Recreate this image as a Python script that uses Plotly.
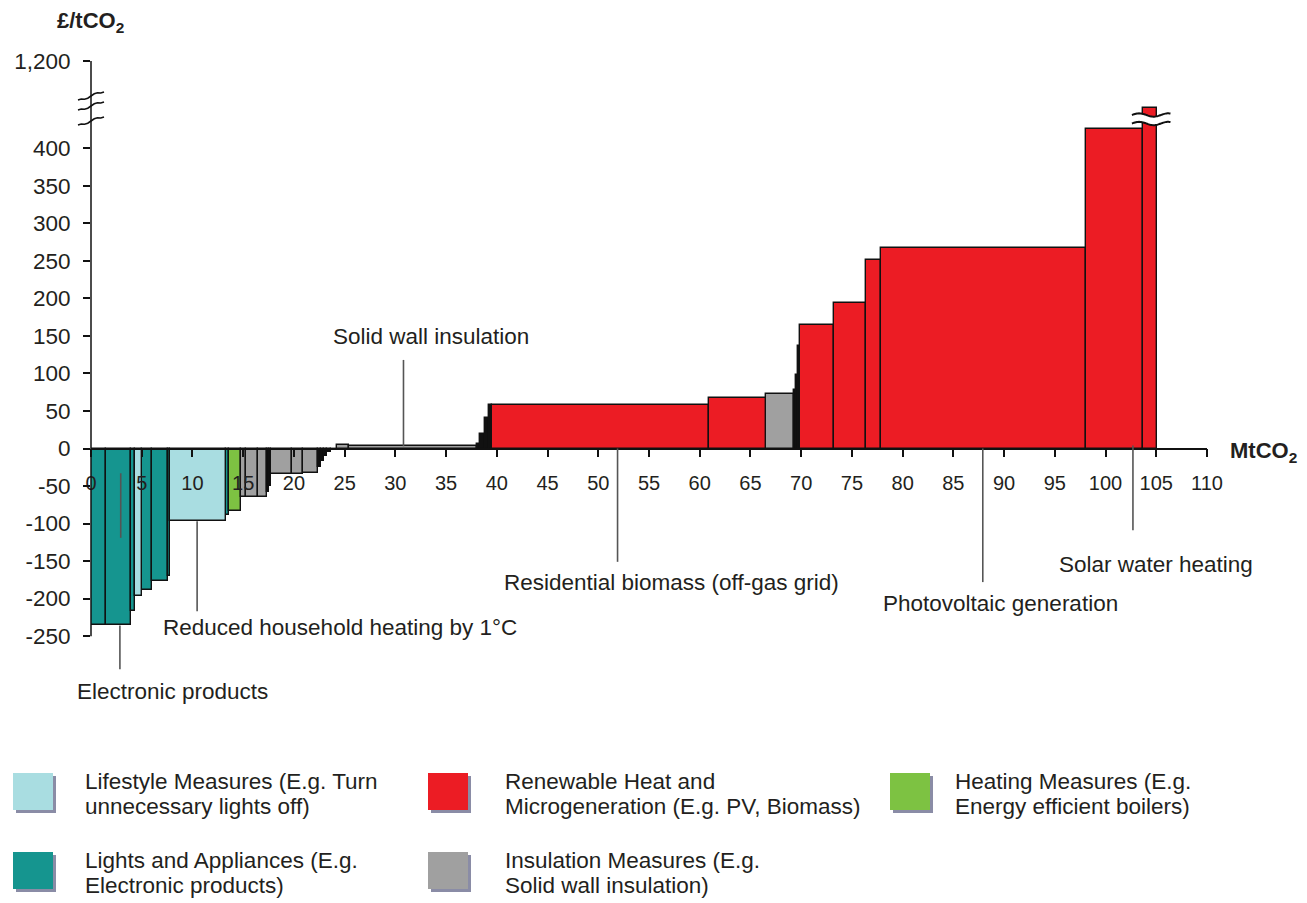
import math
import plotly.graph_objects as go

# ---------------- data ----------------
group_names = {
    "LS": "Lifestyle Measures",
    "LA": "Lights and Appliances",
    "HM": "Heating Measures",
    "IN": "Insulation Measures",
    "RH": "Renewable Heat and Microgeneration",
    "SM": "Other small measures",
}
group_colors = {
    "LS": "#A9DDE1",
    "LA": "#15958F",
    "HM": "#7DC242",
    "IN": "#A0A0A0",
    "RH": "#EC1C24",
    "SM": "#111111",
}
bar_groups = ["LA", "LA", "LA", "LS", "LA", "LA", "LA", "LS", "LA", "HM",
              "IN", "IN", "IN", "SM", "SM", "IN", "IN", "IN", "SM", "SM",
              "SM", "SM", "SM", "IN", "IN", "SM", "SM", "SM", "SM", "RH",
              "RH", "IN", "SM", "SM", "SM", "RH", "RH", "RH", "RH", "RH", "RH"]
# abatement potential of each measure (MtCO2)
bar_widths = [1.50, 2.46, 0.36, 0.75, 0.96, 1.54, 0.19, 5.52, 0.30, 1.22,
              0.49, 1.18, 0.89, 0.20, 0.19, 2.10, 1.06, 1.43, 0.30, 0.30,
              0.30, 0.40, 0.62, 1.14, 12.65, 0.32, 0.50, 0.32, 0.34, 21.41,
              5.61, 2.79, 0.18, 0.18, 0.20, 3.35, 3.15, 1.48, 20.20, 5.58, 1.44]
# cost of each measure (GBP/tCO2)
bar_costs = [-235, -235, -217, -196, -189, -176, -170, -96, -89, -83,
             -65, -65, -65, -58, -50, -34, -34, -32, -24, -16,
             -10, -5, -2, 5, 3, 6, 19, 41, 58, 58,
             67, 72, 78, 98, 136, 165, 194, 251, 267, 426, 640]

y_ticks = [-250, -200, -150, -100, -50, 0, 50, 100, 150, 200, 250, 300, 350, 400, 1200]
y_tick_labels = ["-250", "-200", "-150", "-100", "-50", "0", "50", "100", "150",
                 "200", "250", "300", "350", "400", "1,200"]
x_ticks = list(range(0, 111, 5))

legend_items = [
    ("LS", ["Lifestyle Measures (E.g. Turn", "unnecessary lights off)"]),
    ("RH", ["Renewable Heat and", "Microgeneration (E.g. PV, Biomass)"]),
    ("HM", ["Heating Measures (E.g.", "Energy efficient boilers)"]),
    ("LA", ["Lights and Appliances (E.g.", "Electronic products)"]),
    ("IN", ["Insulation Measures (E.g.", "Solid wall insulation)"]),
]

# ---------------- axis break ----------------
BREAK_LO, BREAK_HI, BREAK_POS = 430.0, 1200.0, 516.3


def ymap(v):
    if v <= BREAK_LO:
        return v
    return BREAK_LO + (v - BREAK_LO) * (BREAK_POS - BREAK_LO) / (BREAK_HI - BREAK_LO)


# ---------------- layout geometry (page pixels) ----------------
W, H = 1307, 903
L, R, T, B = 91, 100, 58, 229
PW, PH = W - L - R, H - T - B
XMIN, XMAX = 0, 110
PXY = 0.7505
YMAX = (448.5 - T) / PXY
YMIN = YMAX - PH / PXY


def xp(px):
    return (px - L) / PW


def yp(py):
    return (T + PH - py) / PH


def yd(v):
    return (v - YMIN) / (YMAX - YMIN)


FONT = "Liberation Sans, Arial, Helvetica, sans-serif"
TXT = "#231F20"

fig = go.Figure()

starts = []
s = 0.0
for w in bar_widths:
    starts.append(s)
    s += w

for g in ["LA", "LS", "HM", "IN", "RH", "SM"]:
    idx = [i for i, gg in enumerate(bar_groups) if gg == g]
    fig.add_trace(go.Bar(
        x=[starts[i] + bar_widths[i] / 2 for i in idx],
        y=[ymap(bar_costs[i]) for i in idx],
        width=[bar_widths[i] for i in idx],
        customdata=[bar_costs[i] for i in idx],
        hovertemplate="%{customdata} £/tCO2<extra>" + group_names[g] + "</extra>",
        marker=dict(color=group_colors[g], line=dict(color="#111111", width=1.4)),
        name=group_names[g],
        showlegend=False,
    ))

shapes = []
annotations = []

# y axis line (stops at -250 and 1,200)
shapes.append(dict(type="line", xref="paper", yref="paper", x0=0, x1=0,
                   y0=yd(-250), y1=yd(BREAK_POS),
                   line=dict(color="#111111", width=1.5)))

# y-axis break marks
for py in [96, 106, 121]:
    pts = []
    n = 8
    for k in range(n + 1):
        px = 78 + 26 * k / n
        dy = -8 * k / n + (1.2 if k in (2, 3) else 0) - (1.2 if k in (5, 6) else 0)
        pts.append((xp(px), yp(py + 4 + dy)))
    path = "M " + " L ".join(f"{a:.5f},{b:.5f}" for a, b in pts)
    shapes.append(dict(type="path", xref="paper", yref="paper", path=path,
                       line=dict(color="#111111", width=1.6)))

# bar break (white band with wavy edges)
xs = [102.6 + 0.1 * k for k in range(39)]
up = [(448.5 - 115) / PXY + 2.2 * math.sin((x - 102.6) * 2.2) for x in xs]
lo = [(448.5 - 123.5) / PXY + 2.2 * math.sin((x - 102.6) * 2.2) for x in xs]
band = "M " + " L ".join(f"{x:.3f},{y:.3f}" for x, y in zip(xs, up))
band += " L " + " L ".join(f"{x:.3f},{y:.3f}" for x, y in zip(reversed(xs), reversed(lo))) + " Z"
shapes.append(dict(type="path", xref="x", yref="y", path=band,
                   fillcolor="white", line=dict(width=0)))
for arr in (up, lo):
    shapes.append(dict(type="path", xref="x", yref="y",
                       path="M " + " L ".join(f"{x:.3f},{y:.3f}" for x, y in zip(xs, arr)),
                       line=dict(color="#111111", width=2)))

# leader lines
leaders = [
    (2.93, -33, -119), (2.85, -236, -294),
    (10.46, -97, -217),
    (30.8, 3, 118),
    (51.9, 0, -151),
    (87.9, 0, -178),
    (102.7, 4, -109),
]
for x, y0, y1 in leaders:
    shapes.append(dict(type="line", xref="x", yref="y", x0=x, x1=x, y0=y0, y1=y1,
                       line=dict(color="#555555", width=1.6)))

LBL = 22.5
labels = [
    ("Reduced household heating by 1°C", 6.85, -239, "left"),
    ("Solid wall insulation", 33.5, 149, "center"),
    ("Residential biomass (off-gas grid)", 57.2, -178, "center"),
    ("Photovoltaic generation", 89.6, -207, "center"),
    ("Solar water heating", 105.0, -155, "center"),
]
for text, x, y, anc in labels:
    annotations.append(dict(text=text, x=x, y=y, xref="x", yref="y", showarrow=False,
                            xanchor=anc, yanchor="middle",
                            font=dict(family=FONT, size=LBL, color=TXT)))
# label lying outside the axis ranges -> paper coordinates
annotations.append(dict(text="Electronic products", xref="paper", yref="paper",
                        x=xp(75), y=yp(691), showarrow=False, xanchor="left", yanchor="middle",
                        font=dict(family=FONT, size=LBL, color=TXT)))

# axis titles
annotations.append(dict(text="<b>£/tCO<sub>2</sub></b>", xref="paper", yref="paper",
                        x=xp(90), y=yp(22), showarrow=False, xanchor="center", yanchor="middle",
                        font=dict(family=FONT, size=22, color=TXT)))
annotations.append(dict(text="<b>MtCO<sub>2</sub></b>", xref="paper", yref="paper",
                        x=xp(1228), y=yp(452), showarrow=False, xanchor="left", yanchor="middle",
                        font=dict(family=FONT, size=22, color=TXT)))

# custom legend
legend_pos = [(13, 773, 83), (428, 773, 503), (890, 773, 953), (13, 852, 83), (428, 852, 503)]
for (g, lines), (sx, sy, tx) in zip(legend_items, legend_pos):
    shapes.append(dict(type="rect", xref="paper", yref="paper",
                       x0=xp(sx + 3), x1=xp(sx + 43), y0=yp(sy + 3), y1=yp(sy + 40),
                       fillcolor="#8A8CA6", line=dict(width=0)))
    shapes.append(dict(type="rect", xref="paper", yref="paper",
                       x0=xp(sx), x1=xp(sx + 40), y0=yp(sy), y1=yp(sy + 37),
                       fillcolor=group_colors[g], line=dict(width=0)))
    for j, line in enumerate(lines):
        annotations.append(dict(text=line, xref="paper", yref="paper", x=xp(tx),
                                y=yp(sy + 8 + 25.5 * j), showarrow=False,
                                xanchor="left", yanchor="middle", align="left",
                                font=dict(family=FONT, size=LBL, color=TXT)))

fig.update_layout(
    width=W, height=H,
    margin=dict(l=L, r=R, t=T, b=B, pad=0),
    paper_bgcolor="white", plot_bgcolor="white",
    barmode="overlay", bargap=0,
    shapes=shapes, annotations=annotations,
    font=dict(family=FONT, color=TXT),
    xaxis=dict(range=[XMIN, XMAX], tickvals=x_ticks, ticktext=[str(v) for v in x_ticks],
               showgrid=False, zeroline=False, showline=True, linecolor="#111111", linewidth=1.5,
               ticks="outside", ticklen=8, tickwidth=1.5, tickcolor="#111111",
               anchor="free", position=yd(0),
               tickfont=dict(family=FONT, size=20, color=TXT), ticklabelstandoff=9,
               fixedrange=True),
    yaxis=dict(range=[YMIN, YMAX], tickvals=[ymap(v) for v in y_ticks], ticktext=y_tick_labels,
               showgrid=False, zeroline=False, showline=False,
               ticks="outside", ticklen=7, tickwidth=1.5, tickcolor="#111111",
               tickfont=dict(family=FONT, size=22.5, color=TXT), ticklabelstandoff=8,
               fixedrange=True),
)

fig.write_html("out.html", config={"displayModeBar": False},
               post_script="document.body.style.margin='0px';")
